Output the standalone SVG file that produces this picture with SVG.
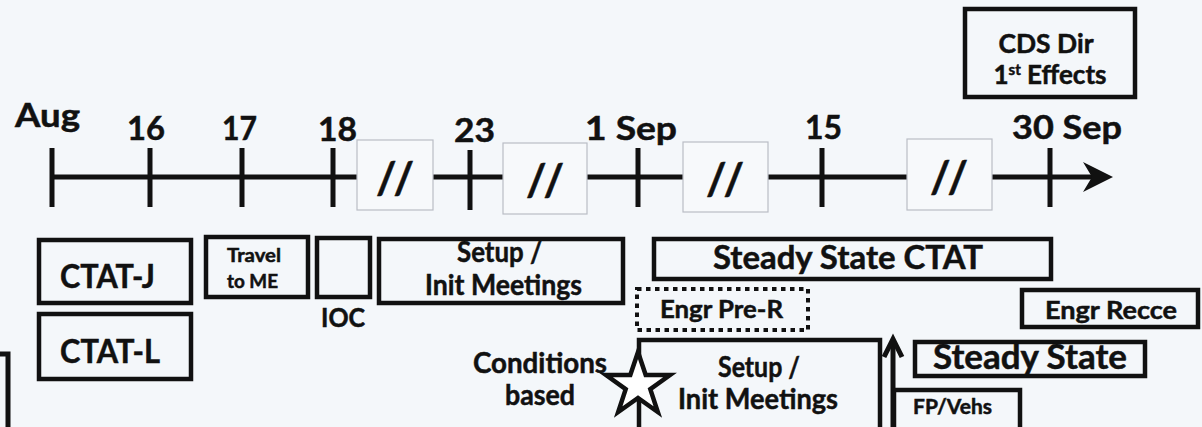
<svg xmlns="http://www.w3.org/2000/svg" width="1202" height="427" viewBox="0 0 1202 427">
<style>
text{font-family:Lato,"Open Sans","Liberation Sans",sans-serif;font-weight:bold;fill:#111;stroke:#111;stroke-width:0.5;text-anchor:middle}
.box{fill:none;stroke:#111;stroke-width:4.5}
.dot{fill:none;stroke:#111;stroke-width:4;stroke-dasharray:4.5 4.5}
.brk{fill:#f7f9fb;stroke:#b9bdc5;stroke-width:1.2}
.ln{stroke:#111;stroke-width:5;fill:none}
.tl{font-size:33px}
.sl{font-size:44px;font-style:normal}
</style>
<rect width="1202" height="427" fill="#f4f7fa"/>
<g id="connectors">
<path class="ln" d="M52,177H357M433,177H503M587,177H683M768,177H907M992,177H1094"/>
<polygon points="1113,177 1083,162 1092,177 1083,192" fill="#111"/>
<path class="ln" d="M52,148V207M150,148V207M242,148V207M333,148V207M470,150V210M638,148V207M822,148V207M1050,148V207"/>
<path class="ln" d="M893,430V340"/>
<polyline class="ln" points="884,357 893,339 902,357" stroke-linejoin="miter"/>
</g>
<g id="breaks">
<rect class="brk" x="357" y="140" width="76" height="70"/>
<text class="sl" x="395" y="194" textLength="38" lengthAdjust="spacing">//</text>
<rect class="brk" x="503" y="143" width="84" height="71"/>
<text class="sl" x="545" y="196" textLength="38" lengthAdjust="spacing">//</text>
<rect class="brk" x="683" y="142" width="85" height="70"/>
<text class="sl" x="725" y="195" textLength="38" lengthAdjust="spacing">//</text>
<rect class="brk" x="907" y="139" width="85" height="71"/>
<text class="sl" x="949" y="193" textLength="38" lengthAdjust="spacing">//</text>
</g>
<g id="labels">
<text class="tl" x="47.5" y="127" textLength="65" lengthAdjust="spacingAndGlyphs">Aug</text>
<text class="tl" x="146" y="140" textLength="38" lengthAdjust="spacingAndGlyphs">16</text>
<text class="tl" x="239.5" y="140" textLength="35" lengthAdjust="spacingAndGlyphs">17</text>
<text class="tl" x="337.5" y="141" textLength="39" lengthAdjust="spacingAndGlyphs">18</text>
<text class="tl" x="474.5" y="142" textLength="41" lengthAdjust="spacingAndGlyphs">23</text>
<text class="tl" x="631" y="140" textLength="92" lengthAdjust="spacingAndGlyphs">1 Sep</text>
<text class="tl" x="823.5" y="139" textLength="37" lengthAdjust="spacingAndGlyphs">15</text>
<text class="tl" x="1067" y="139" textLength="110" lengthAdjust="spacingAndGlyphs">30 Sep</text>
</g>
<g id="cds-dir">
<rect class="box" x="965" y="9" width="170" height="88"/>
<text x="1046" y="53" font-size="26" textLength="95" lengthAdjust="spacingAndGlyphs">CDS Dir</text>
<text x="1050" y="84" font-size="26">1<tspan font-size="15" dy="-9">st</tspan><tspan dy="9"> Effects</tspan></text>
</g>
<g id="ctat-j">
<rect class="box" x="39" y="240" width="152" height="63"/>
<text x="107.5" y="288" font-size="32" textLength="95" lengthAdjust="spacingAndGlyphs">CTAT-J</text>
</g>
<g id="ctat-l">
<rect class="box" x="39" y="314" width="152" height="65"/>
<text x="110" y="363" font-size="32" textLength="100" lengthAdjust="spacingAndGlyphs">CTAT-L</text>
</g>
<g id="left-edge">
<path class="ln" d="M0,354H8V430"/>
</g>
<g id="travel">
<rect class="box" x="206" y="237" width="102" height="60"/>
<text x="254" y="262" font-size="19" textLength="54" lengthAdjust="spacingAndGlyphs">Travel</text>
<text x="252.5" y="288" font-size="19" textLength="51" lengthAdjust="spacingAndGlyphs">to ME</text>
</g>
<g id="ioc">
<rect class="box" x="317" y="238" width="53" height="59"/>
<text x="343" y="327" font-size="26" textLength="44" lengthAdjust="spacingAndGlyphs">IOC</text>
</g>
<g id="setup-1">
<rect class="box" x="379" y="239" width="244" height="64"/>
<text x="499.5" y="262" font-size="29" textLength="85" lengthAdjust="spacingAndGlyphs">Setup /</text>
<text x="503.5" y="295" font-size="29" textLength="157" lengthAdjust="spacingAndGlyphs">Init Meetings</text>
</g>
<g id="steady-state-ctat">
<rect class="box" x="654" y="239" width="397" height="40"/>
<text x="848" y="269" font-size="33" textLength="270" lengthAdjust="spacingAndGlyphs">Steady State CTAT</text>
</g>
<g id="engr-pre-r">
<rect class="dot" x="637" y="289" width="171" height="41"/>
<text x="721.5" y="318" font-size="25" textLength="123" lengthAdjust="spacingAndGlyphs">Engr Pre-R</text>
</g>
<g id="engr-recce">
<rect class="box" x="1022" y="290" width="176" height="37"/>
<text x="1111" y="319" font-size="25" textLength="132" lengthAdjust="spacingAndGlyphs">Engr Recce</text>
</g>
<g id="setup-2">
<rect class="box" x="639" y="340" width="241" height="100"/>
<text x="759" y="377" font-size="29" textLength="82" lengthAdjust="spacingAndGlyphs">Setup /</text>
<text x="758" y="409" font-size="29" textLength="160" lengthAdjust="spacingAndGlyphs">Init Meetings</text>
</g>
<g id="conditions">
<text x="540" y="373" font-size="28" textLength="134" lengthAdjust="spacingAndGlyphs">Conditions</text>
<text x="540" y="405" font-size="28" textLength="70" lengthAdjust="spacingAndGlyphs">based</text>
<polygon points="638,352 645.7,375 670,375 650.3,389.2 657.8,412 638,397.9 618.2,412 625.7,389.2 606,375 630.3,375" fill="#fff" stroke="#111" stroke-width="4.5" stroke-linejoin="miter"/>
</g>
<g id="steady-state">
<rect class="box" x="915" y="342" width="230" height="34"/>
<text x="1030" y="369" font-size="34" textLength="194" lengthAdjust="spacingAndGlyphs">Steady State</text>
</g>
<g id="fp-vehs">
<rect class="box" x="894" y="390" width="126" height="60"/>
<text x="952.5" y="414" font-size="20" textLength="79" lengthAdjust="spacingAndGlyphs">FP/Vehs</text>
</g>
</svg>
